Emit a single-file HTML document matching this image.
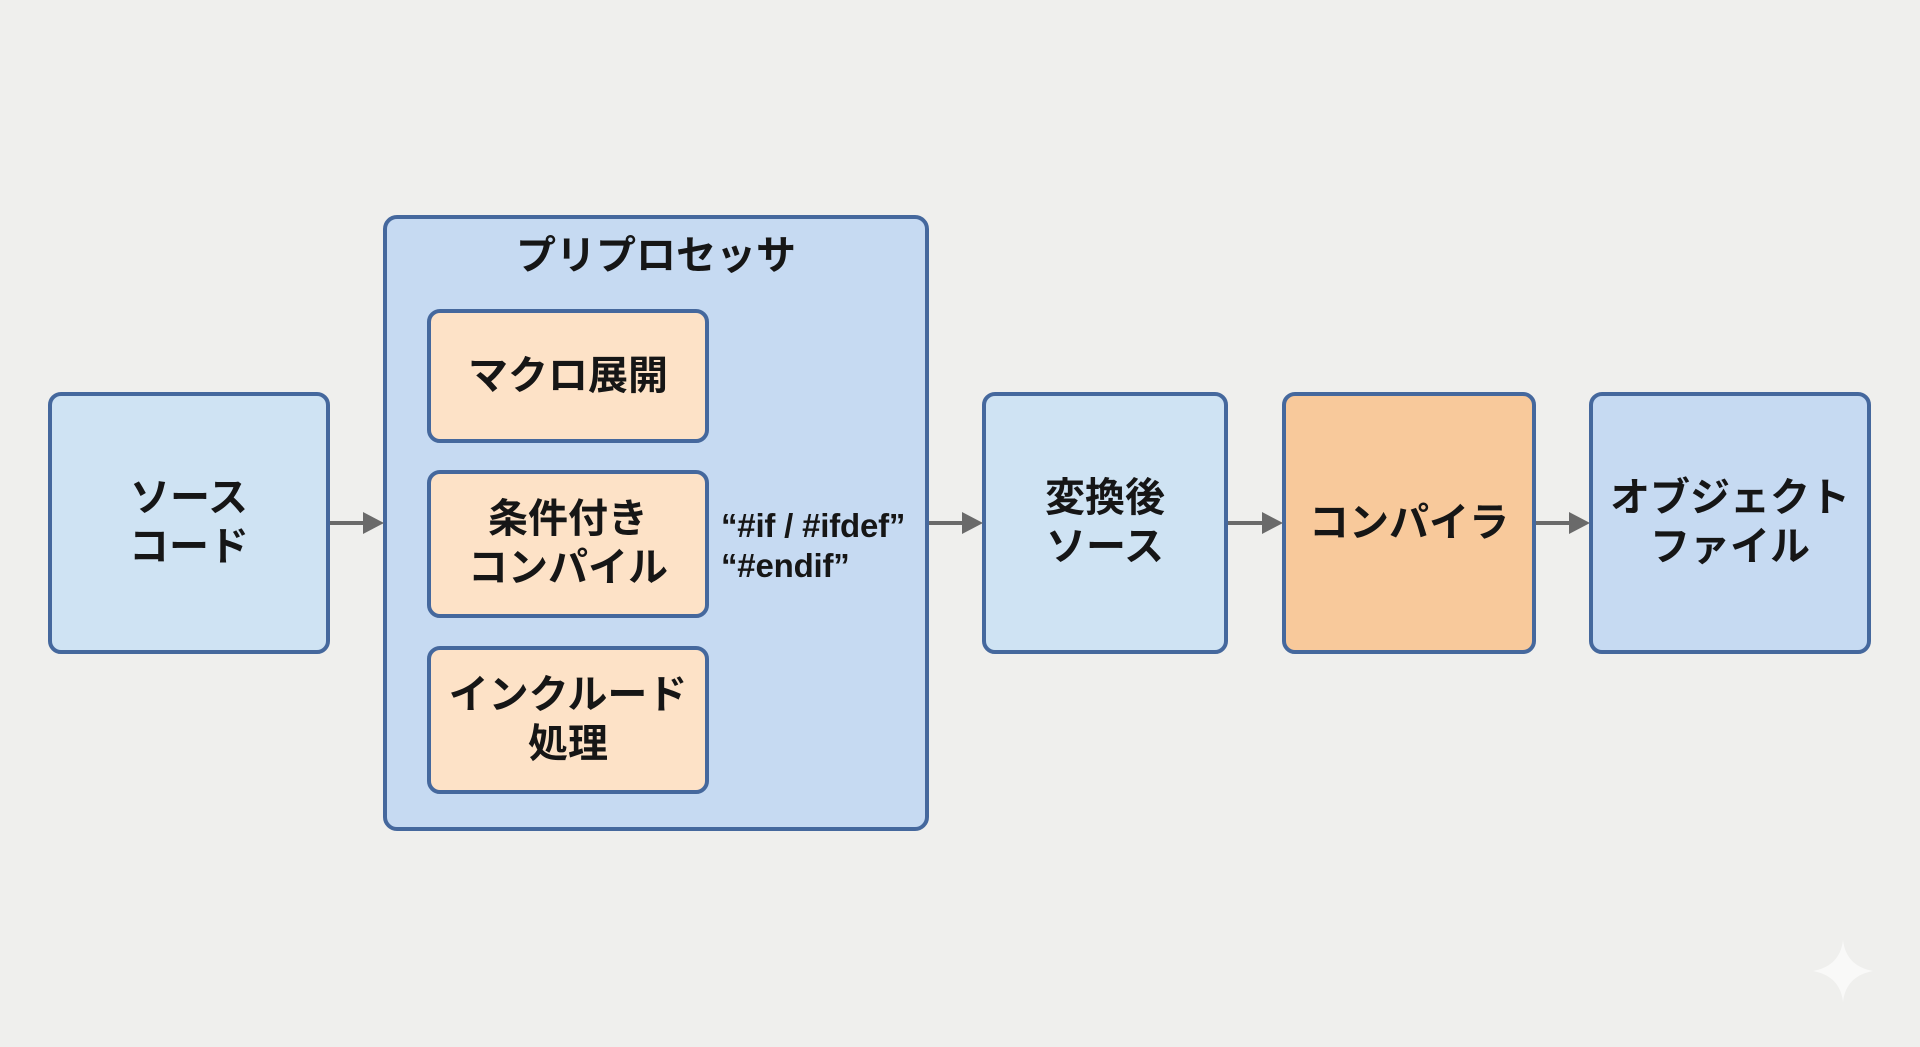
<!DOCTYPE html>
<html>
<head>
<meta charset="utf-8">
<style>
  html,body{margin:0;padding:0;}
  body{width:1920px;height:1047px;background:#efefed;position:relative;overflow:hidden;
       font-family:"Liberation Sans","Noto Sans CJK JP",sans-serif;}
  .box{position:absolute;box-sizing:border-box;border:4px solid #45689d;border-radius:13px;
       display:flex;align-items:center;justify-content:center;text-align:center;
       font-family:"Liberation Sans","Noto Sans CJK JP",sans-serif;font-weight:bold;
       font-size:40px;line-height:49px;color:#161616;}
  .blue{background:#cfe3f3;}
  .blue2{background:#c6daf2;}
  .orange{background:#fde2c7;}
  .orange2{background:#f8c99b;}
  .title{position:absolute;left:384px;width:544px;top:226px;text-align:center;
         font-family:"Liberation Sans","Noto Sans CJK JP",sans-serif;font-weight:bold;font-size:40px;line-height:60px;color:#161616;}
  .code{position:absolute;left:721px;font-family:"Liberation Sans",sans-serif;font-weight:bold;
        font-size:33px;color:#161616;line-height:40px;letter-spacing:-0.2px;}
  .arrow{position:absolute;height:4px;background:#6a6a6a;top:521px;}
  .head{position:absolute;width:0;height:0;border-top:11px solid transparent;border-bottom:11px solid transparent;
        border-left:21px solid #6a6a6a;top:512px;}
</style>
</head>
<body>
  <!-- Source -->
  <div class="box blue" style="left:48px;top:392px;width:282px;height:262px;">ソース<br>コード</div>

  <!-- Preprocessor container -->
  <div class="box blue2" style="left:383px;top:215px;width:546px;height:616px;border-radius:14px;"></div>
  <div class="title">プリプロセッサ</div>

  <div class="box orange" style="left:427px;top:309px;width:282px;height:134px;">マクロ展開</div>
  <div class="box orange" style="left:427px;top:470px;width:282px;height:148px;">条件付き<br>コンパイル</div>
  <div class="box orange" style="left:427px;top:646px;width:282px;height:148px;">インクルード<br>処理</div>

  <div class="code" style="top:506px;">“#if / #ifdef”</div>
  <div class="code" style="top:546px;">“#endif”</div>

  <!-- Converted source -->
  <div class="box blue" style="left:982px;top:392px;width:246px;height:262px;">変換後<br>ソース</div>

  <!-- Compiler -->
  <div class="box orange2" style="left:1282px;top:392px;width:254px;height:262px;">コンパイラ</div>

  <!-- Object file -->
  <div class="box blue2" style="left:1589px;top:392px;width:282px;height:262px;">オブジェクト<br>ファイル</div>

  <!-- Arrows -->
  <div class="arrow" style="left:330px;width:36px;"></div>
  <div class="head" style="left:363px;"></div>

  <div class="arrow" style="left:929px;width:36px;"></div>
  <div class="head" style="left:962px;"></div>

  <div class="arrow" style="left:1228px;width:36px;"></div>
  <div class="head" style="left:1262px;"></div>

  <div class="arrow" style="left:1536px;width:36px;"></div>
  <div class="head" style="left:1569px;"></div>

  <!-- sparkle -->
  <svg style="position:absolute;left:1813px;top:940px;" width="60" height="62" viewBox="0 0 60 62">
    <path d="M30 0 Q33 26 60 31 Q33 36 30 62 Q27 36 0 31 Q27 26 30 0 Z" fill="#f9f9f8"/>
  </svg>
</body>
</html>
